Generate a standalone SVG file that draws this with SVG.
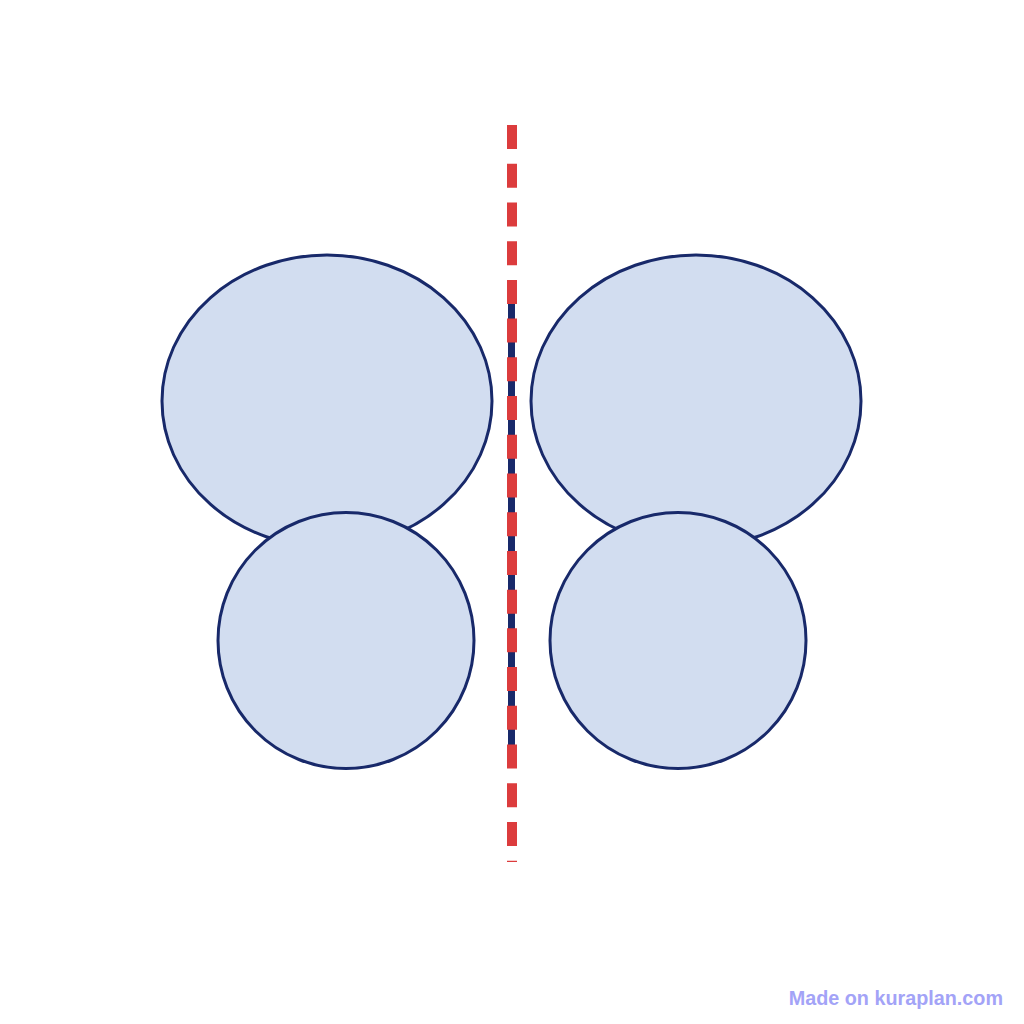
<svg xmlns="http://www.w3.org/2000/svg" width="1024" height="1024" viewBox="0 0 1024 1024">
  <style>
    .wing { fill: #d2ddf0; stroke: #18296a; stroke-width: 3; }
    .body { stroke: #18296a; stroke-width: 7; fill: none; }
    .axis { stroke: #dc3c3d; stroke-width: 10; stroke-dasharray: 24 14.72; fill: none; }
    .mark { font-family: "Liberation Sans", Arial, sans-serif; font-weight: bold; font-size: 19.8px; fill: #a3a3f7; }
  </style>
  <rect width="1024" height="1024" fill="#ffffff"/>
  <g id="upper-left-wing"><ellipse class="wing" cx="327" cy="401" rx="165" ry="146"/></g>
  <g id="upper-right-wing"><ellipse class="wing" cx="696" cy="401" rx="165" ry="146"/></g>
  <g id="lower-left-wing"><circle class="wing" cx="346" cy="640.5" r="128"/></g>
  <g id="lower-right-wing"><circle class="wing" cx="678" cy="640.5" r="128"/></g>
  <g id="body"><line class="body" x1="511.5" y1="302" x2="511.5" y2="766"/></g>
  <g id="connectors">
    <line class="axis" x1="512" y1="125" x2="512" y2="862"/>
  </g>
  <text class="mark" x="1003" y="1005" text-anchor="end">Made on kuraplan.com</text>
</svg>
